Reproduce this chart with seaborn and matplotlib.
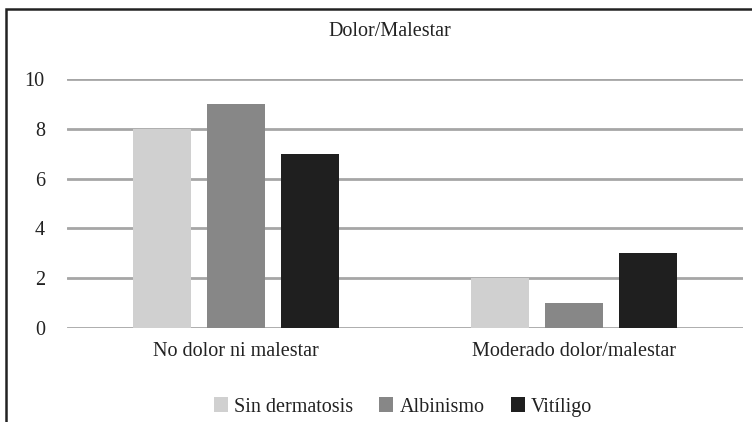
import matplotlib
matplotlib.use("Agg")
import matplotlib.pyplot as plt
import matplotlib.patches as patches
import seaborn as sns
import pandas as pd

categorias = ["No dolor ni malestar", "Moderado dolor/malestar"]
sin_dermatosis = [8, 2]
albinismo = [9, 1]
vitiligo = [7, 3]
grupos = ["Sin dermatosis", "Albinismo", "Vitíligo"]
colores = ["#d0d0d0", "#878787", "#1f1f1f"]

df = pd.DataFrame({
    "cat": categorias * 3,
    "grupo": [g for g in grupos for _ in categorias],
    "valor": sin_dermatosis + albinismo + vitiligo,
})

sns.set_style("white")
plt.rcParams["font.family"] = ["Liberation Serif", "DejaVu Serif"]

fig = plt.figure(figsize=(7.52, 4.22), dpi=100)
ax = fig.add_axes([0.0891, 0.2227, 0.899, 0.590])

sns.barplot(data=df, x="cat", y="valor", hue="grupo", hue_order=grupos,
            palette=colores, width=0.66, gap=0.22, ax=ax, legend=True,
            saturation=1, linewidth=0, zorder=3)

ax.set_ylim(0, 10)
ax.set_xlim(-0.5, 1.5)
ax.set_yticks(range(0, 11, 2))
ax.yaxis.grid(True, color="#a6a6a6", linewidth=2, zorder=0)
ax.set_axisbelow(True)
for s in ax.spines.values():
    s.set_visible(False)
ax.tick_params(axis="both", length=0, labelsize=14.5, colors="#222222")
ax.tick_params(axis="y", pad=16)
ax.tick_params(axis="x", pad=10)
ax.set_xlabel("")
ax.set_ylabel("")

fig.text(390 / 752, 1 - 32 / 422, "Dolor/Malestar", ha="center", va="center",
         fontsize=14.5, color="#222222")

handles, labels = ax.get_legend_handles_labels()
ax.get_legend().remove()
fig.legend(handles, labels, loc="center", ncol=3, frameon=False,
           bbox_to_anchor=(403 / 752, 1 - 407 / 422), fontsize=14.5,
           handlelength=0.7, handleheight=0.7, handletextpad=0.3,
           columnspacing=1.3, labelcolor="#222222")

borde = patches.Rectangle((6 / 752, -0.2), 1.5, 1 - 9 / 422 + 0.2,
                          transform=fig.transFigure, fill=False,
                          edgecolor="#222222", linewidth=1.8, clip_on=False)
fig.patches.append(borde)

fig.savefig("out.png", dpi=100)
